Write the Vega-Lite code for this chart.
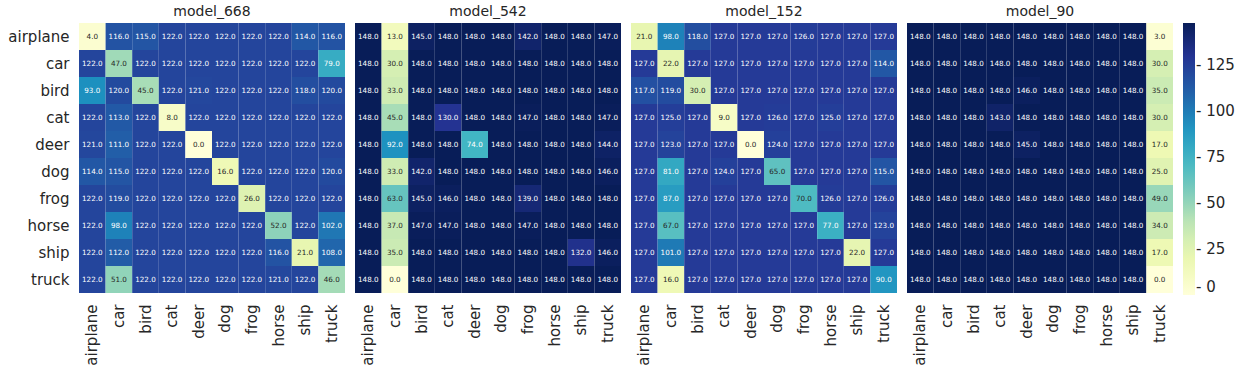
{
  "$schema": "https://vega.github.io/schema/vega-lite/v6.json",
  "padding": {"left": 7, "top": 5, "right": 0, "bottom": 0},
  "data": {"values": [
    {"model":"model_668","actual":"airplane","airplane":4,"car":116,"bird":115,"cat":122,"deer":122,"dog":122,"frog":122,"horse":122,"ship":114,"truck":116},
    {"model":"model_668","actual":"car","airplane":122,"car":47,"bird":122,"cat":122,"deer":122,"dog":122,"frog":122,"horse":122,"ship":122,"truck":79},
    {"model":"model_668","actual":"bird","airplane":93,"car":120,"bird":45,"cat":122,"deer":121,"dog":122,"frog":122,"horse":122,"ship":118,"truck":120},
    {"model":"model_668","actual":"cat","airplane":122,"car":113,"bird":122,"cat":8,"deer":122,"dog":122,"frog":122,"horse":122,"ship":122,"truck":122},
    {"model":"model_668","actual":"deer","airplane":121,"car":111,"bird":122,"cat":122,"deer":0,"dog":122,"frog":122,"horse":122,"ship":122,"truck":122},
    {"model":"model_668","actual":"dog","airplane":114,"car":115,"bird":122,"cat":122,"deer":122,"dog":16,"frog":122,"horse":122,"ship":122,"truck":120},
    {"model":"model_668","actual":"frog","airplane":122,"car":119,"bird":122,"cat":122,"deer":122,"dog":122,"frog":26,"horse":122,"ship":122,"truck":122},
    {"model":"model_668","actual":"horse","airplane":122,"car":98,"bird":122,"cat":122,"deer":122,"dog":122,"frog":122,"horse":52,"ship":122,"truck":102},
    {"model":"model_668","actual":"ship","airplane":122,"car":112,"bird":122,"cat":122,"deer":122,"dog":122,"frog":122,"horse":116,"ship":21,"truck":108},
    {"model":"model_668","actual":"truck","airplane":122,"car":51,"bird":122,"cat":122,"deer":122,"dog":122,"frog":122,"horse":121,"ship":122,"truck":46},
    {"model":"model_542","actual":"airplane","airplane":148,"car":13,"bird":145,"cat":148,"deer":148,"dog":148,"frog":142,"horse":148,"ship":148,"truck":147},
    {"model":"model_542","actual":"car","airplane":148,"car":30,"bird":148,"cat":148,"deer":148,"dog":148,"frog":148,"horse":148,"ship":148,"truck":148},
    {"model":"model_542","actual":"bird","airplane":148,"car":33,"bird":148,"cat":148,"deer":148,"dog":148,"frog":148,"horse":148,"ship":148,"truck":148},
    {"model":"model_542","actual":"cat","airplane":148,"car":45,"bird":148,"cat":130,"deer":148,"dog":148,"frog":147,"horse":148,"ship":148,"truck":147},
    {"model":"model_542","actual":"deer","airplane":148,"car":92,"bird":148,"cat":148,"deer":74,"dog":148,"frog":148,"horse":148,"ship":148,"truck":144},
    {"model":"model_542","actual":"dog","airplane":148,"car":33,"bird":142,"cat":148,"deer":148,"dog":148,"frog":148,"horse":148,"ship":148,"truck":146},
    {"model":"model_542","actual":"frog","airplane":148,"car":63,"bird":145,"cat":146,"deer":148,"dog":148,"frog":139,"horse":148,"ship":148,"truck":148},
    {"model":"model_542","actual":"horse","airplane":148,"car":37,"bird":147,"cat":147,"deer":148,"dog":148,"frog":147,"horse":148,"ship":148,"truck":148},
    {"model":"model_542","actual":"ship","airplane":148,"car":35,"bird":148,"cat":148,"deer":148,"dog":148,"frog":148,"horse":148,"ship":132,"truck":146},
    {"model":"model_542","actual":"truck","airplane":148,"car":0,"bird":148,"cat":148,"deer":148,"dog":148,"frog":148,"horse":148,"ship":148,"truck":148},
    {"model":"model_152","actual":"airplane","airplane":21,"car":98,"bird":118,"cat":127,"deer":127,"dog":127,"frog":126,"horse":127,"ship":127,"truck":127},
    {"model":"model_152","actual":"car","airplane":127,"car":22,"bird":127,"cat":127,"deer":127,"dog":127,"frog":127,"horse":127,"ship":127,"truck":114},
    {"model":"model_152","actual":"bird","airplane":117,"car":119,"bird":30,"cat":127,"deer":127,"dog":127,"frog":127,"horse":127,"ship":127,"truck":127},
    {"model":"model_152","actual":"cat","airplane":127,"car":125,"bird":127,"cat":9,"deer":127,"dog":126,"frog":127,"horse":125,"ship":127,"truck":127},
    {"model":"model_152","actual":"deer","airplane":127,"car":123,"bird":127,"cat":127,"deer":0,"dog":124,"frog":127,"horse":127,"ship":127,"truck":127},
    {"model":"model_152","actual":"dog","airplane":127,"car":81,"bird":127,"cat":124,"deer":127,"dog":65,"frog":127,"horse":127,"ship":127,"truck":115},
    {"model":"model_152","actual":"frog","airplane":127,"car":87,"bird":127,"cat":127,"deer":127,"dog":127,"frog":70,"horse":126,"ship":127,"truck":126},
    {"model":"model_152","actual":"horse","airplane":127,"car":67,"bird":127,"cat":127,"deer":127,"dog":127,"frog":127,"horse":77,"ship":127,"truck":123},
    {"model":"model_152","actual":"ship","airplane":127,"car":101,"bird":127,"cat":127,"deer":127,"dog":127,"frog":127,"horse":127,"ship":22,"truck":127},
    {"model":"model_152","actual":"truck","airplane":127,"car":16,"bird":127,"cat":127,"deer":127,"dog":127,"frog":127,"horse":127,"ship":127,"truck":90},
    {"model":"model_90","actual":"airplane","airplane":148,"car":148,"bird":148,"cat":148,"deer":148,"dog":148,"frog":148,"horse":148,"ship":148,"truck":3},
    {"model":"model_90","actual":"car","airplane":148,"car":148,"bird":148,"cat":148,"deer":148,"dog":148,"frog":148,"horse":148,"ship":148,"truck":30},
    {"model":"model_90","actual":"bird","airplane":148,"car":148,"bird":148,"cat":148,"deer":146,"dog":148,"frog":148,"horse":148,"ship":148,"truck":35},
    {"model":"model_90","actual":"cat","airplane":148,"car":148,"bird":148,"cat":143,"deer":148,"dog":148,"frog":148,"horse":148,"ship":148,"truck":30},
    {"model":"model_90","actual":"deer","airplane":148,"car":148,"bird":148,"cat":148,"deer":145,"dog":148,"frog":148,"horse":148,"ship":148,"truck":17},
    {"model":"model_90","actual":"dog","airplane":148,"car":148,"bird":148,"cat":148,"deer":148,"dog":148,"frog":148,"horse":148,"ship":148,"truck":25},
    {"model":"model_90","actual":"frog","airplane":148,"car":148,"bird":148,"cat":148,"deer":148,"dog":148,"frog":148,"horse":148,"ship":148,"truck":49},
    {"model":"model_90","actual":"horse","airplane":148,"car":148,"bird":148,"cat":148,"deer":148,"dog":148,"frog":148,"horse":148,"ship":148,"truck":34},
    {"model":"model_90","actual":"ship","airplane":148,"car":148,"bird":148,"cat":148,"deer":148,"dog":148,"frog":148,"horse":148,"ship":148,"truck":17},
    {"model":"model_90","actual":"truck","airplane":148,"car":148,"bird":148,"cat":148,"deer":148,"dog":148,"frog":148,"horse":148,"ship":148,"truck":0}
  ]},
  "transform": [
    {"fold": ["airplane","car","bird","cat","deer","dog","frog","horse","ship","truck"], "as": ["pred","count"]}
  ],
  "facet": {
    "column": {
      "field": "model", "type": "nominal",
      "sort": ["model_668","model_542","model_152","model_90"],
      "header": {"title": null, "labelFontSize": 14, "labelColor": "#262626", "labelFont": "DejaVu Sans", "labelPadding": 4}
    }
  },
  "spacing": 10,
  "spec": {
    "width": 266,
    "height": 270,
    "encoding": {
      "x": {"field": "pred", "type": "nominal", "sort": ["airplane","car","bird","cat","deer","dog","frog","horse","ship","truck"],
            "axis": {"title": null, "labelAngle": 270, "labelFontSize": 15, "labelColor": "#262626", "ticks": false, "domain": false, "labelPadding": 11}},
      "y": {"field": "actual", "type": "nominal", "sort": ["airplane","car","bird","cat","deer","dog","frog","horse","ship","truck"],
            "axis": {"title": null, "labelFontSize": 15, "labelColor": "#262626", "ticks": false, "domain": false, "labelPadding": 10}}
    },
    "layer": [
      {"mark": {"type": "rect"},
       "encoding": {"color": {"field": "count", "type": "quantitative",
          "scale": {"domain": [0, 18.5, 37, 55.5, 74, 92.5, 111, 129.5, 148],
                    "range": ["#ffffd9","#edf8b1","#c7e9b4","#7fcdbb","#41b6c4","#1d91c0","#225ea8","#253494","#081d58"],
                    "interpolate": "rgb", "nice": false},
          "legend": {"title": null, "gradientLength": 272, "gradientThickness": 12, "values": [0,25,50,75,100,125], "labelExpr": "'- ' + datum.label", "labelFontSize": 15, "labelColor": "#262626", "offset": 10, "labelOffset": 1, "gradientStrokeWidth": 0}}}},
      {"mark": {"type": "text", "fontSize": 7.2},
       "encoding": {"text": {"field": "count", "type": "quantitative", "format": ".1f"},
         "color": {"condition": {"test": "datum.count < 72", "value": "#262626"}, "value": "#ffffff"}}}
    ]
  },
  "config": {
    "font": "DejaVu Sans",
    "view": {"stroke": null},
    "axis": {"grid": false}
  }
}
